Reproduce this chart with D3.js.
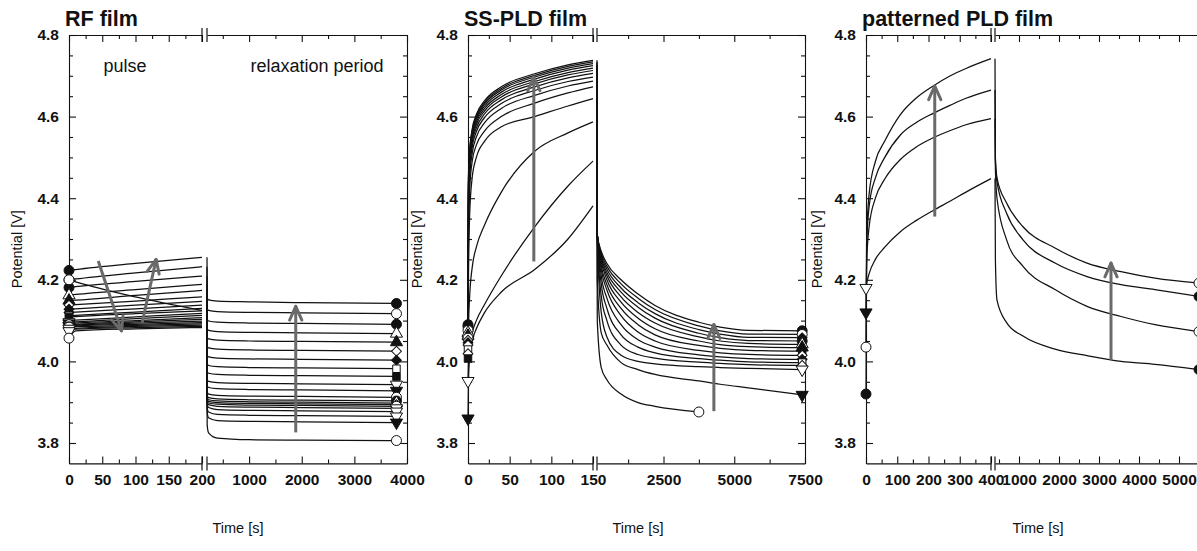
<!DOCTYPE html>
<html><head><meta charset="utf-8">
<script src="https://cdn.jsdelivr.net/npm/d3@7"></script>
<style>
body{margin:0;background:#fff;}
text{font-family:"Liberation Sans",Arial,sans-serif;}
</style></head>
<body><svg id="c" width="1197" height="551"></svg>
<script>
// ---------------- DATA ----------------
const titles = ["RF film", "SS-PLD film", "patterned PLD film"];
const yMajor = [3.8, 4.0, 4.2, 4.4, 4.6, 4.8];

// RF film
const rfPulseTimes = [0, 10, 100, 200];
const rfPulse = [
 [4.223,4.225,4.240,4.255],[4.200,4.202,4.217,4.232],[4.181,4.183,4.196,4.209],
 [4.162,4.164,4.176,4.189],[4.149,4.150,4.162,4.174],[4.138,4.139,4.148,4.158],
 [4.128,4.129,4.138,4.147],[4.120,4.121,4.129,4.138],[4.112,4.113,4.121,4.130],
 [4.109,4.110,4.117,4.124],[4.100,4.101,4.109,4.118],[4.096,4.097,4.105,4.113],
 [4.093,4.094,4.100,4.107],[4.090,4.091,4.097,4.103],[4.088,4.089,4.094,4.099],
 [4.086,4.087,4.091,4.095],[4.084,4.085,4.088,4.092],[4.080,4.081,4.086,4.089],
 [4.074,4.079,4.083,4.086],[4.057,4.075,4.080,4.083],[4.200,4.195,4.158,4.125]
];
const rfPulseSymbols = ["fc","oc","fc","otu","ftu","od","fd","fd","os","fs","fd","otd","ftd","oc","otd","ftd","oc","otd","otd","oc","oc"];
const rfRelaxTimes = [200, 203, 230, 400, 1000, 2000, 3800];
const rfRelax = [
 [4.255,4.156,4.151,4.148,4.146,4.144,4.142],[4.232,4.130,4.125,4.122,4.120,4.119,4.117],
 [4.209,4.104,4.099,4.096,4.094,4.093,4.091],[4.189,4.081,4.076,4.073,4.071,4.070,4.068],
 [4.174,4.060,4.055,4.052,4.050,4.049,4.047],[4.158,4.038,4.033,4.030,4.028,4.027,4.025],
 [4.147,4.016,4.011,4.008,4.006,4.005,4.003],[4.138,3.995,3.990,3.987,3.985,3.984,3.982],
 [4.130,3.976,3.971,3.968,3.966,3.965,3.963],[4.124,3.956,3.951,3.948,3.946,3.945,3.943],
 [4.118,3.941,3.936,3.933,3.931,3.930,3.928],[4.113,3.926,3.920,3.917,3.915,3.914,3.912],
 [4.107,3.917,3.911,3.908,3.906,3.905,3.903],[4.103,3.912,3.906,3.903,3.901,3.900,3.898],
 [4.099,3.908,3.902,3.899,3.897,3.896,3.894],[4.095,3.905,3.898,3.895,3.893,3.892,3.890],
 [4.092,3.900,3.894,3.890,3.888,3.887,3.885],[4.089,3.895,3.887,3.882,3.880,3.879,3.877],
 [4.086,3.885,3.876,3.870,3.868,3.867,3.865],[4.083,3.875,3.862,3.855,3.853,3.852,3.850],
 [4.125,3.845,3.825,3.812,3.808,3.807,3.806]
];
const rfRelaxSymbols = ["fc","oc","fc","otu","ftu","od","fd","os","fs","otd","ftd","oc","fc","otu","od","oc","otd","otd","otd","ftd","oc"];

// SS-PLD film
const ssPulseTimes = [0, 0.5, 2, 5, 10, 20, 40, 80, 120, 150];
const ssPulse = [
 [4.090,4.450,4.516,4.569,4.605,4.639,4.673,4.705,4.727,4.738],
 [4.085,4.440,4.512,4.565,4.601,4.635,4.669,4.701,4.723,4.734],
 [4.076,4.430,4.508,4.561,4.597,4.631,4.665,4.697,4.719,4.730],
 [4.070,4.420,4.503,4.556,4.592,4.626,4.660,4.692,4.714,4.725],
 [4.063,4.410,4.497,4.550,4.586,4.620,4.654,4.686,4.708,4.719],
 [4.057,4.400,4.490,4.543,4.580,4.614,4.648,4.680,4.702,4.713],
 [4.052,4.380,4.480,4.535,4.572,4.607,4.641,4.673,4.695,4.706],
 [4.046,4.360,4.470,4.525,4.563,4.598,4.632,4.664,4.686,4.697],
 [4.040,4.330,4.450,4.510,4.550,4.585,4.620,4.652,4.675,4.687],
 [4.029,4.280,4.420,4.490,4.530,4.565,4.600,4.633,4.658,4.673],
 [4.019,4.200,4.360,4.450,4.500,4.540,4.575,4.600,4.626,4.644],
 [4.007,4.080,4.160,4.230,4.280,4.335,4.415,4.515,4.560,4.587],
 [3.952,4.000,4.040,4.070,4.100,4.140,4.210,4.330,4.430,4.491],
 [3.860,3.950,4.010,4.050,4.080,4.120,4.170,4.225,4.300,4.381]
];
const ssPulseSymbols = ["fc","fc","oc","otu","ftu","oc","od","fd","od","os","od","fs","otd","ftd"];
const ssRelaxTimes = [150, 160, 300, 500, 1000, 1600, 2200, 3750, 4500, 5500, 7400];
const ssRelax = [
 [4.738,4.310,4.270,4.240,4.200,4.165,4.137,4.096,4.084,4.076,4.075],
 [4.734,4.310,4.265,4.233,4.190,4.155,4.127,4.087,4.075,4.067,4.066],
 [4.730,4.310,4.260,4.226,4.180,4.144,4.117,4.078,4.067,4.059,4.058],
 [4.725,4.310,4.255,4.218,4.170,4.133,4.106,4.069,4.058,4.051,4.050],
 [4.719,4.310,4.250,4.210,4.158,4.120,4.094,4.060,4.050,4.044,4.042],
 [4.713,4.310,4.245,4.200,4.145,4.106,4.080,4.050,4.041,4.036,4.034],
 [4.706,4.310,4.235,4.188,4.130,4.090,4.065,4.039,4.032,4.027,4.025],
 [4.697,4.310,4.225,4.175,4.112,4.072,4.050,4.027,4.021,4.017,4.015],
 [4.687,4.310,4.210,4.155,4.090,4.053,4.035,4.016,4.011,4.007,4.005],
 [4.673,4.310,4.190,4.130,4.065,4.035,4.021,4.007,4.003,3.999,3.997],
 [4.644,4.300,4.160,4.100,4.040,4.017,4.008,3.998,3.995,3.992,3.990],
 [4.587,4.300,4.120,4.060,4.015,4.000,3.994,3.987,3.985,3.983,3.980],
 [4.491,4.200,4.070,4.040,3.997,3.980,3.968,3.952,3.944,3.935,3.918],
 [4.381,4.100,3.985,3.955,3.920,3.899,3.890,3.876,null,null,null]
];
const ssRelaxSymbols = ["fc","oc","fd","fc","otu","ftu","fs","od","fd","os","od","otd","ftd","oc"];

// patterned PLD film
const ptPulseTimes = [0, 2, 10, 30, 60, 110, 160, 215, 270, 320, 400];
const ptPulse = [
 [3.920,4.300,4.410,4.490,4.540,4.605,4.645,4.675,4.700,4.718,4.742],
 [4.035,4.280,4.380,4.450,4.500,4.555,4.585,4.608,4.628,4.645,4.665],
 [4.120,4.240,4.330,4.400,4.447,4.495,4.525,4.548,4.566,4.580,4.595],
 [4.180,4.190,4.215,4.250,4.280,4.318,4.345,4.370,4.393,4.415,4.448]
];
const ptPulseSymbols = ["fc","oc","ftd","otd"];
const ptRelaxTimes = [400, 410, 450, 690, 1100, 1900, 2700, 3550, 4400, 5500];
const ptRelax = [
 [4.742,4.500,4.450,4.388,4.330,4.278,4.241,4.220,4.204,4.192],
 [4.665,4.490,4.440,4.363,4.298,4.241,4.208,4.188,4.176,4.159],
 [4.595,4.470,4.400,4.298,4.233,4.176,4.135,4.110,4.090,4.073],
 [4.448,4.250,4.150,4.095,4.062,4.030,4.014,4.000,3.993,3.980]
];
const ptRelaxSymbols = ["oc","fc","oc","fc"];

// arrows [t1, v1, t2, v2]
const rfPulseArrows = [[44, 4.246, 79, 4.075], [110, 4.095, 131, 4.250]];
const rfRelaxArrows = [[1886, 3.826, 1886, 4.135]];
const ssPulseArrows = [[79, 4.245, 79, 4.697]];
const ssRelaxArrows = [[4280, 3.878, 4280, 4.090]];
const ptPulseArrows = [[220, 4.355, 220, 4.675]];
const ptRelaxArrows = [[3300, 4.004, 3300, 4.241]];

// tick values
const rfPulseTicks = [0, 50, 100, 150, 200], rfPulseMinor = [25, 75, 125, 175];
const rfRelaxTicks = [1000, 2000, 3000, 4000], rfRelaxMinor = [500, 1500, 2500, 3500];
const ssPulseTicks = [0, 50, 100, 150], ssPulseMinor = [25, 75, 125];
const ssRelaxTicks = [2500, 5000, 7500], ssRelaxMinor = [1250, 3750, 6250];
const ptPulseTicks = [0, 100, 200, 300, 400], ptPulseMinor = [50, 150, 250, 350];
const ptRelaxTicks = [1000, 2000, 3000, 4000, 5000], ptRelaxMinor = [500, 1500, 2500, 3500, 4500, 5500];

// ---------------- LAYOUT ----------------
const svg = d3.select("#c");
const yTop = 35, yBot = 463.4;
const y = d3.scaleLinear().domain([3.75, 4.8]).range([yBot, yTop]);
const yMinor = d3.range(3.8, 4.80001, 0.05).map(v => +v.toFixed(2)).filter(v => !yMajor.some(m => Math.abs(m - v) < 1e-6));

const panels = [
 {title: titles[0], x0: 69, x1: 202, x2: 207, x3: 407, pd: [0, 200], rd: [200, 4000], right: true,
  pT: rfPulseTimes, p: rfPulse, pS: rfPulseSymbols, rT: rfRelaxTimes, r: rfRelax, rS: rfRelaxSymbols,
  pTk: rfPulseTicks, pMn: rfPulseMinor, rTk: rfRelaxTicks, rMn: rfRelaxMinor,
  pA: rfPulseArrows, rA: rfRelaxArrows, yl: 18, xl: 238},
 {title: titles[1], x0: 468, x1: 593, x2: 597, x3: 805, pd: [0, 150], rd: [150, 7500], right: true,
  pT: ssPulseTimes, p: ssPulse, pS: ssPulseSymbols, rT: ssRelaxTimes, r: ssRelax, rS: ssRelaxSymbols,
  pTk: ssPulseTicks, pMn: ssPulseMinor, rTk: ssRelaxTicks, rMn: ssRelaxMinor,
  pA: ssPulseArrows, rA: ssRelaxArrows, yl: 418, xl: 638},
 {title: titles[2], x0: 866, x1: 991, x2: 995, x3: 1219, pd: [0, 400], rd: [400, 6000], right: false,
  pT: ptPulseTimes, p: ptPulse, pS: ptPulseSymbols, rT: ptRelaxTimes, r: ptRelax, rS: ptRelaxSymbols,
  pTk: ptPulseTicks, pMn: ptPulseMinor, rTk: ptRelaxTicks, rMn: ptRelaxMinor,
  pA: ptPulseArrows, rA: ptRelaxArrows, yl: 818, xl: 1038}
];

const symMap = {
 c: {type: d3.symbolCircle, size: 78, rot: 0},
 tu: {type: d3.symbolTriangle, size: 64, rot: 0},
 td: {type: d3.symbolTriangle, size: 64, rot: 180},
 s: {type: d3.symbolSquare, size: 56, rot: 0},
 d: {type: d3.symbolSquare, size: 48, rot: 45}
};

function styleAxis(g) {
  g.selectAll("path.domain").attr("stroke", "#111").attr("stroke-width", 1.1);
  g.selectAll(".tick line").attr("stroke", "#111").attr("stroke-width", 1.1);
  g.selectAll("text").attr("font-size", 15.5).attr("font-weight", "bold").attr("fill", "#111")
    .style("font-family", "'Liberation Sans', Arial, sans-serif");
}

function drawArrow(g, x1, y1, x2, y2) {
  const col = "#6a6a6a", ang = Math.atan2(y2 - y1, x2 - x1), L = 15, h = 0.42;
  g.append("line").attr("x1", x1).attr("y1", y1).attr("x2", x2).attr("y2", y2)
    .attr("stroke", col).attr("stroke-width", 3);
  [ -h, h ].forEach(a => {
    g.append("line").attr("x1", x2).attr("y1", y2)
      .attr("x2", x2 - L * Math.cos(ang + a)).attr("y2", y2 - L * Math.sin(ang + a))
      .attr("stroke", col).attr("stroke-width", 3).attr("stroke-linecap", "round");
  });
}

const fmtX = d3.format("d");

panels.forEach(P => {
  const g = svg.append("g");
  const xp = d3.scaleLinear().domain(P.pd).range([P.x0, P.x1]);
  const xr = d3.scaleLinear().domain(P.rd).range([P.x2, P.x3]);

  // bottom axes
  const ab = g.append("g").attr("transform", `translate(0,${yBot})`);
  ab.append("g").call(d3.axisBottom(xp).tickValues(P.pTk).tickSizeInner(-7).tickSizeOuter(0).tickPadding(11).tickFormat(fmtX)).call(styleAxis);
  ab.append("g").call(d3.axisBottom(xr).tickValues(P.rTk).tickSizeInner(-7).tickSizeOuter(0).tickPadding(11).tickFormat(fmtX)).call(styleAxis);
  ab.append("g").call(d3.axisBottom(xp).tickValues(P.pMn).tickSize(-4).tickFormat("")).call(styleAxis).select(".domain").remove();
  ab.append("g").call(d3.axisBottom(xr).tickValues(P.rMn).tickSize(-4).tickFormat("")).call(styleAxis).select(".domain").remove();
  // top axes
  const at = g.append("g").attr("transform", `translate(0,${yTop})`);
  at.append("g").call(d3.axisTop(xp).tickValues(P.pTk).tickSizeInner(-7).tickSizeOuter(0).tickFormat("")).call(styleAxis);
  at.append("g").call(d3.axisTop(xr).tickValues(P.rTk).tickSizeInner(-7).tickSizeOuter(0).tickFormat("")).call(styleAxis);
  at.append("g").call(d3.axisTop(xp).tickValues(P.pMn).tickSize(-4).tickFormat("")).call(styleAxis).select(".domain").remove();
  at.append("g").call(d3.axisTop(xr).tickValues(P.rMn).tickSize(-4).tickFormat("")).call(styleAxis).select(".domain").remove();
  // break marks
  [yTop, yBot].forEach(yy => [P.x1, P.x2].forEach(xx => {
    g.append("line").attr("x1", xx).attr("x2", xx).attr("y1", yy - 7).attr("y2", yy + 7)
      .attr("stroke", "#111").attr("stroke-width", 1.2);
  }));
  // left axis
  const al = g.append("g").attr("transform", `translate(${P.x0},0)`);
  al.append("g").call(d3.axisLeft(y).tickValues(yMajor).tickSizeInner(-7).tickSizeOuter(0).tickPadding(10).tickFormat(d3.format(".1f"))).call(styleAxis);
  al.append("g").call(d3.axisLeft(y).tickValues(yMinor).tickSize(-4).tickFormat("")).call(styleAxis).select(".domain").remove();
  if (P.right) {
    const ar = g.append("g").attr("transform", `translate(${P.x3},0)`);
    ar.append("g").call(d3.axisRight(y).tickValues(yMajor).tickSizeInner(-7).tickSizeOuter(0).tickFormat("")).call(styleAxis);
    ar.append("g").call(d3.axisRight(y).tickValues(yMinor).tickSize(-4).tickFormat("")).call(styleAxis).select(".domain").remove();
  }

  // titles
  g.append("text").attr("x", P.x0 - 4).attr("y", 26).attr("font-size", 21.5).attr("font-weight", "bold")
    .attr("fill", "#111").text(P.title);
  g.append("text").attr("transform", `translate(${P.yl},${(yTop + yBot) / 2}) rotate(-90)`)
    .attr("text-anchor", "middle").attr("dominant-baseline", "middle").attr("font-size", 14.5).attr("fill", "#111").text("Potential [V]");
  g.append("text").attr("x", P.xl).attr("y", 533).attr("text-anchor", "middle").attr("font-size", 14.5)
    .attr("fill", "#111").text("Time [s]");

  // lines
  const lp = d3.line().defined(d => d.v != null).x(d => xp(d.t)).y(d => y(d.v)).curve(d3.curveMonotoneX);
  const lr = d3.line().defined(d => d.v != null).x(d => xr(d.t)).y(d => y(d.v)).curve(d3.curveMonotoneX);
  P.p.forEach(row => g.append("path").datum(row.map((v, i) => ({t: P.pT[i], v})))
    .attr("d", lp).attr("fill", "none").attr("stroke", "#111").attr("stroke-width", 1.25));
  P.r.forEach(row => g.append("path").datum(row.map((v, i) => ({t: P.rT[i], v})))
    .attr("d", lr).attr("fill", "none").attr("stroke", "#111").attr("stroke-width", 1.25));

  // markers
  function marker(x, yy, code) {
    const filled = code[0] === "f", s = symMap[code.slice(1)];
    g.append("path").attr("d", d3.symbol().type(s.type).size(s.size)())
      .attr("transform", `translate(${x},${yy}) rotate(${s.rot})`)
      .attr("fill", filled ? "#111" : "#fff").attr("stroke", "#111").attr("stroke-width", 1);
  }
  P.p.forEach((row, i) => marker(xp(P.pT[0]), y(row[0]), P.pS[i]));
  P.r.forEach((row, i) => {
    let k = row.length - 1; while (row[k] == null) k--;
    marker(xr(P.rT[k]), y(row[k]), P.rS[i]);
  });

  // arrows
  P.pA.forEach(a => drawArrow(g, xp(a[0]), y(a[1]), xp(a[2]), y(a[3])));
  P.rA.forEach(a => drawArrow(g, xr(a[0]), y(a[1]), xr(a[2]), y(a[3])));
});

// annotations (RF film)
svg.append("text").attr("x", 125).attr("y", 72).attr("text-anchor", "middle").attr("font-size", 18).attr("fill", "#111").text("pulse");
svg.append("text").attr("x", 317).attr("y", 72).attr("text-anchor", "middle").attr("font-size", 18).attr("fill", "#111").text("relaxation period");
</script></body></html>
